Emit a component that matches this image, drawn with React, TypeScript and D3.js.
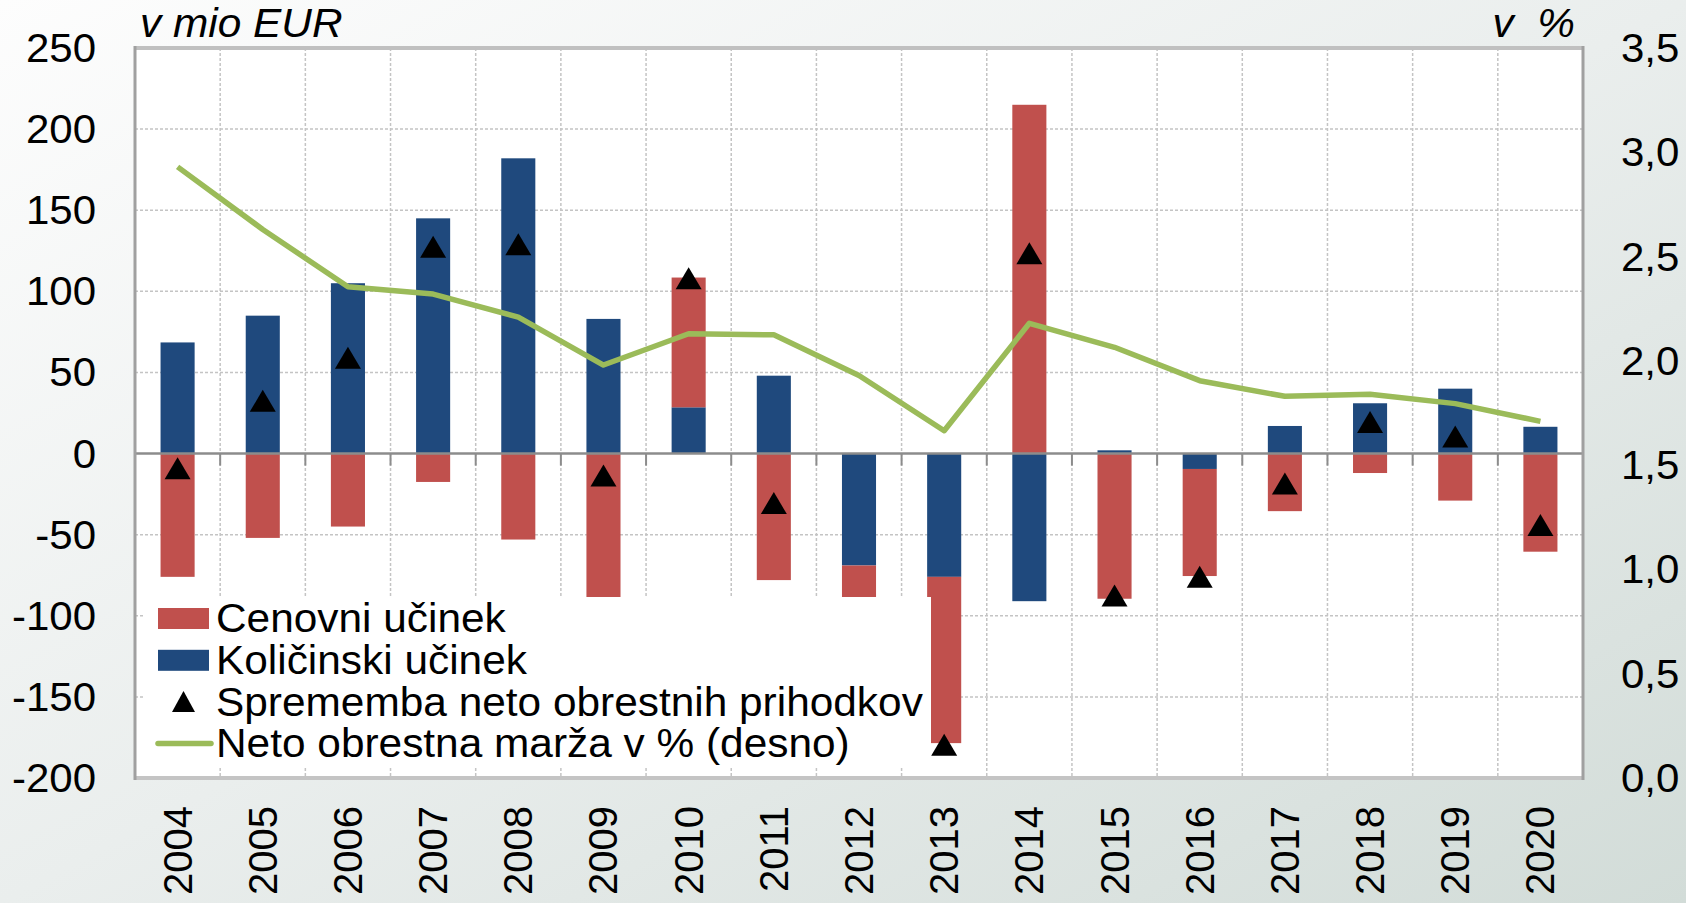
import React from 'react'
import * as d3 from 'd3'

// values (mio EUR, right axis in %)
const years = ['2004', '2005', '2006', '2007', '2008', '2009', '2010', '2011', '2012', '2013', '2014', '2015', '2016', '2017', '2018', '2019', '2020']
const cenovni = [-76, -52, -45, -17.5, -53, -96.5, 80, -78, -30, -102.5, 215, -89.5, -66, -35.5, -12, -29, -60.5]
const kolicinski = [68.5, 85, 105, 145, 182, 83, 28.5, 48, -69, -76, -91, 2, -9.5, 17, 31, 40, 16.5]
const sprememba = [-9, 32.5, 59, 127.5, 129, -13.5, 108, -30.5, -99, -179.5, 123.5, -87.5, -76, -18.5, 19.5, 10.5, -44]
const marza = [2.93, 2.63, 2.355, 2.32, 2.21, 1.98, 2.13, 2.125, 1.93, 1.665, 2.18, 2.065, 1.905, 1.83, 1.84, 1.795, 1.71]
const leftTicks = [250, 200, 150, 100, 50, 0, -50, -100, -150, -200]
const rightTicks = [3.5, 3.0, 2.5, 2.0, 1.5, 1.0, 0.5, 0.0]
const legendLabels = ['Cenovni učinek', 'Količinski učinek', 'Sprememba neto obrestnih prihodkov', 'Neto obrestna marža v % (desno)']

const W = 1686
const H = 903
const L = 135, R = 1583, T = 48, B = 778
const RED = '#C0504D'
const BLUE = '#1F497D'
const GREEN = '#9BBB59'
const FONT = '"Liberation Sans", Arial, sans-serif'

// horizontally stretched text, like the original export
function Txt({ x, y, sx = 1.05, anchor = 'start', italic = false, children }: any) {
  return (
    <text transform={`translate(${x},${y}) scale(${sx},1)`} fontSize={40} textAnchor={anchor}
      fontStyle={italic ? 'italic' : 'normal'} fill="#000" style={{ whiteSpace: 'pre' }}>{children}</text>
  )
}

export default function App() {
  const x = d3.scaleBand().domain(years).range([L, R]).paddingInner(0.6).paddingOuter(0.3)
  const y = d3.scaleLinear().domain([-200, 250]).range([B, T])
  const y2 = d3.scaleLinear().domain([0, 3.5]).range([B, T])
  const step = x.step()
  const bw = x.bandwidth()
  const cx = (yr: string) => (x(yr) as number) + bw / 2

  const table = years.map((yr, i) => ({ year: yr, kol: kolicinski[i], cen: cenovni[i] }))
  const stacked = d3.stack<any>().keys(['kol', 'cen']).offset(d3.stackOffsetDiverging)(table)

  const line = d3.line<number>()
    .x((_, i) => cx(years[i]))
    .y(d => y2(d))

  const tri = (px: number, py: number, w = 26, h = 22) =>
    `M${px - w / 2},${py + h / 2}L${px},${py - h / 2}L${px + w / 2},${py + h / 2}Z`

  const fmt = (v: number) => v.toFixed(1).replace('.', ',')
  const bounds = d3.range(years.length + 1).map(i => L + i * step)

  // legend box
  const lgX = 144, lgY = 597, lgW = 787, lgH = 169
  const rowY = (i: number) => 618 + i * 41.8

  return (
    <div>
      <style>{'body{margin:0}'}</style>
      <svg width={W} height={H} style={{ display: 'block', fontFamily: FONT }}>
        <defs>
          <linearGradient id="bg" x1="0" y1="0" x2="1" y2="1">
            <stop offset="0" stopColor="#fdfdfd" />
            <stop offset="0.5" stopColor="#eaeeed" />
            <stop offset="1" stopColor="#d2dcd8" />
          </linearGradient>
        </defs>
        <rect width={W} height={H} fill="url(#bg)" />
        <rect x={L} y={T} width={R - L} height={B - T} fill="#fff" />

        {/* grid */}
        {leftTicks.filter(t => t !== 0 && t !== 250 && t !== -200).map(t => (
          <line key={'h' + t} x1={L} x2={R} y1={y(t)} y2={y(t)} stroke="#c4c4c4" strokeWidth={1.5} strokeDasharray="3,2" />
        ))}
        {bounds.slice(1, -1).map((bx, i) => (
          <line key={'v' + i} x1={bx} x2={bx} y1={T} y2={B} stroke="#c4c4c4" strokeWidth={1.5} strokeDasharray="3,2" />
        ))}

        {/* stacked bars */}
        {stacked.map(s => (
          <g key={s.key} fill={s.key === 'kol' ? BLUE : RED}>
            {s.map((d, i) => (
              <rect key={i} x={x(years[i])} width={bw}
                y={y(Math.max(d[0], d[1]))}
                height={Math.abs(y(d[0]) - y(d[1]))} />
            ))}
          </g>
        ))}

        {/* zero line with ticks */}
        <line x1={L} x2={R} y1={y(0)} y2={y(0)} stroke="#8c8c8c" strokeWidth={2.5} />
        {bounds.slice(1, -1).map((bx, i) => (
          <line key={'t' + i} x1={bx} x2={bx} y1={y(0)} y2={y(0) + 12} stroke="#8c8c8c" strokeWidth={2} />
        ))}

        {/* margin line */}
        <path d={line(marza) as string} fill="none" stroke={GREEN} strokeWidth={5.5} strokeLinejoin="round" />

        {/* net change markers */}
        {sprememba.map((v, i) => (
          <path key={i} d={tri(cx(years[i]), y(v))} fill="#000" />
        ))}

        {/* legend */}
        <rect x={lgX} y={lgY} width={lgW} height={lgH} fill="#fff" />
        <rect x={158} y={rowY(0) - 10} width={51} height={21} fill={RED} />
        <rect x={158} y={rowY(1) - 10} width={51} height={21} fill={BLUE} />
        <path d={tri(183.5, rowY(2), 23, 21)} fill="#000" />
        <line x1={158} x2={211} y1={rowY(3)} y2={rowY(3)} stroke={GREEN} strokeWidth={5.5} strokeLinecap="round" />
        {legendLabels.map((t, i) => (
          <Txt key={t} x={216} y={rowY(i) + 14} sx={1.06}>{t}</Txt>
        ))}

        {/* frame */}
        <line x1={L} x2={R} y1={T} y2={T} stroke="#c0c0c0" strokeWidth={4} />
        <line x1={L} x2={R} y1={B} y2={B} stroke="#c4c4c4" strokeWidth={4} />
        <line x1={L} x2={L} y1={T - 2} y2={B + 2} stroke="#a0a0a0" strokeWidth={3} />
        <line x1={R} x2={R} y1={T - 2} y2={B + 2} stroke="#a0a0a0" strokeWidth={3} />

        {/* left axis labels */}
        {leftTicks.map(t => (
          <Txt key={'l' + t} x={96} y={y(t) + 14} anchor="end">{t}</Txt>
        ))}
        {/* right axis labels */}
        {rightTicks.map(t => (
          <Txt key={'r' + t} x={1621} y={y2(t) + 14}>{fmt(t)}</Txt>
        ))}
        {/* year labels */}
        {years.map(yr => (
          <text key={yr} transform={`translate(${cx(yr) + 14},806) rotate(-90)`} fontSize={40} textAnchor="end" fill="#000">{yr}</text>
        ))}

        {/* units */}
        <Txt x={140} y={37} sx={1.06} italic>v mio EUR</Txt>
        <Txt x={1575} y={37} sx={1.06} anchor="end" italic>v  %</Txt>
      </svg>
    </div>
  )
}
